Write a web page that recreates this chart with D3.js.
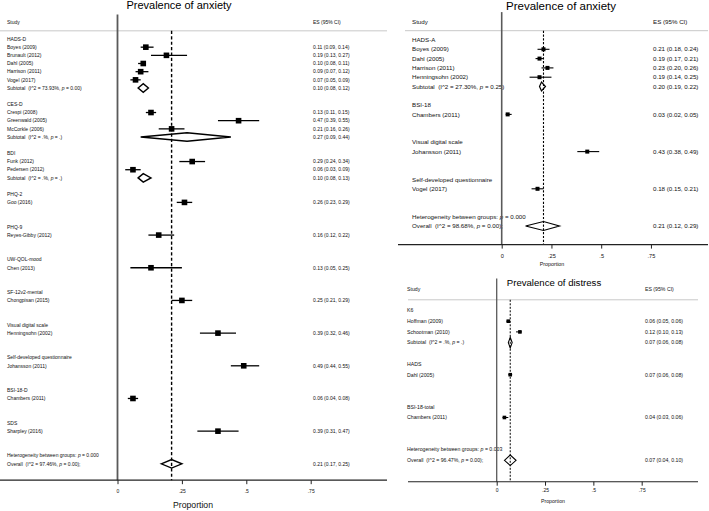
<!DOCTYPE html>
<html><head><meta charset="utf-8">
<script src="https://cdn.jsdelivr.net/npm/d3@7"></script>
<style>
body{margin:0;background:#fff}
svg{display:block}
text{font-family:"Liberation Sans",Arial,Helvetica,sans-serif;fill:#111;white-space:pre}
</style>
</head><body>
<svg id="c" width="709" height="511"></svg>
<script>
// ================= DATA =================
const tickVals = [0, 0.25, 0.5, 0.75];
const tickLabels = ["0", ".25", ".5", ".75"];
const axisTitle = "Proportion";
const headerStudy = "Study";
const headerES = "ES (95% CI)";

// Panel 1: Prevalence of anxiety (all instruments)
const anxTitle = "Prevalence of anxiety";
const anxGroups = ["HADS-D","CES-D","BDI","PHQ-2","PHQ-9","UW-QOL-mood","SF-12v2-mental","Visual digital scale","Self-developed questionnaire","BSI-18-D","SDS"];
const anxStudies = ["Boyes (2009)","Brunault (2012)","Dahl (2005)","Harrison (2011)","Vogel (2017)","Crespi (2008)","Greenwald (2005)","McCorkle (2006)","Funk (2012)","Pedersen (2012)","Goo (2016)","Reyes-Gibby (2012)","Chen (2013)","Chongpisan (2015)","Henningsohn (2002)","Johansson (2011)","Chambers (2011)","Sharpley (2016)"];
const anxStudyGroup = [0,0,0,0,0,1,1,1,2,2,3,4,5,6,7,8,9,10];
const anxES = [0.11,0.19,0.10,0.09,0.07,0.13,0.47,0.21,0.29,0.06,0.26,0.16,0.13,0.25,0.39,0.49,0.06,0.39];
const anxLo = [0.09,0.13,0.08,0.07,0.05,0.11,0.39,0.16,0.24,0.03,0.23,0.12,0.05,0.21,0.32,0.44,0.04,0.31];
const anxHi = [0.14,0.27,0.11,0.12,0.09,0.15,0.55,0.26,0.34,0.09,0.29,0.22,0.25,0.29,0.46,0.55,0.08,0.47];
const anxSubES = [0.10,0.27,0.10,null,null,null,null,null,null,null,null];
const anxSubLo = [0.08,0.09,0.08,null,null,null,null,null,null,null,null];
const anxSubHi = [0.12,0.44,0.13,null,null,null,null,null,null,null,null];
const anxSubI2 = ["73.93%",".%",".%"];
const anxSubP = ["0.00",".","."];
const anxOverall = [0.21,0.17,0.25];
const anxOverallI2 = "97.46%", anxOverallP = "0.00", anxBetweenP = "0.000";

// Panel 2: Prevalence of anxiety (anxiety instruments)
const anx2Title = "Prevalence of anxiety";
const anx2Groups = ["HADS-A","BSI-18","Visual digital scale","Self-developed questionnaire"];
const anx2Studies = ["Boyes (2009)","Dahl (2005)","Harrison (2011)","Henningsohn (2002)","Chambers (2011)","Johansson (2011)","Vogel (2017)"];
const anx2StudyGroup = [0,0,0,0,1,2,3];
const anx2ES = [0.21,0.19,0.23,0.19,0.03,0.43,0.18];
const anx2Lo = [0.18,0.17,0.20,0.14,0.02,0.38,0.15];
const anx2Hi = [0.24,0.21,0.26,0.25,0.05,0.49,0.21];
const anx2SubES = [0.20,null,null,null];
const anx2SubLo = [0.19,null,null,null];
const anx2SubHi = [0.22,null,null,null];
const anx2SubI2 = ["27.30%"];
const anx2SubP = ["0.25"];
const anx2Overall = [0.21,0.12,0.29];
const anx2OverallI2 = "98.68%", anx2OverallP = "0.00", anx2BetweenP = "0.000";

// Panel 3: Prevalence of distress
const disTitle = "Prevalence of distress";
const disGroups = ["K6","HADS","BSI-18-total"];
const disStudies = ["Hoffman (2009)","Schootman (2010)","Dahl (2005)","Chambers (2011)"];
const disStudyGroup = [0,0,1,2];
const disES = [0.06,0.12,0.07,0.04];
const disLo = [0.05,0.10,0.06,0.03];
const disHi = [0.06,0.13,0.08,0.06];
const disSubES = [0.07,null,null];
const disSubLo = [0.06,null,null];
const disSubHi = [0.08,null,null];
const disSubI2 = [".%"];
const disSubP = ["."];
const disOverall = [0.07,0.04,0.10];
const disOverallI2 = "96.47%", disOverallP = "0.00", disBetweenP = "0.003";

// ================= DRAWING =================
const svg = d3.select("#c");
const fmt = d3.format(".2f");
const esText = (e,l,h) => `${fmt(e)} (${fmt(l)}, ${fmt(h)})`;

function addPText(sel, before, after) {
  sel.append("tspan").text(before);
  sel.append("tspan").attr("font-style","italic").text("p");
  sel.append("tspan").text(after);
}

function drawPanel(cfg, d) {
  const g = svg.append("g");
  const x = d3.scaleLinear().domain([0,1]).range([cfg.x0, cfg.x1]);
  // build row structure
  const rows = [];
  d.groups.forEach((grp, gi) => {
    rows.push({kind:"group", label:grp});
    d.studyGroup.forEach((sg, i) => { if (sg === gi) rows.push({kind:"study", i}); });
    if (d.subES[gi] != null) rows.push({kind:"sub", gi}); else rows.push({kind:"blank"});
    rows.push({kind:"blank"});
  });
  rows.push({kind:"het"});
  rows.push({kind:"overall"});
  const y = i => cfg.rowY0 + i * cfg.rowH;
  const axisY = y(rows.length + 1);

  // title
  g.append("text").attr("x", cfg.titleX).attr("y", cfg.titleY).attr("text-anchor","middle")
    .attr("font-size", cfg.titleSize).style("fill","#000").text(d.title);

  // header
  g.append("text").attr("x", cfg.studyX).attr("y", y(-2)).attr("dy","0.35em").attr("font-size", cfg.font).text(headerStudy);
  g.append("text").attr("x", cfg.esX).attr("y", y(-2)).attr("dy","0.35em").attr("font-size", cfg.font).text(headerES);
  g.append("line").attr("x1", cfg.hdrL).attr("x2", cfg.hdrR).attr("y1", y(-1)).attr("y2", y(-1))
    .attr("stroke","#c8c8c8").attr("stroke-width",1);

  // row texts
  rows.forEach((r, ri) => {
    const yy = y(ri);
    if (r.kind === "blank") return;
    const t = g.append("text").attr("x", cfg.studyX).attr("y", yy).attr("dy","0.35em").attr("font-size", cfg.font);
    if (r.kind === "group") t.text(r.label);
    else if (r.kind === "study") {
      t.text(d.studies[r.i]);
      g.append("text").attr("x", cfg.esX).attr("y", yy).attr("dy","0.35em").attr("font-size", cfg.font)
        .text(esText(d.es[r.i], d.lo[r.i], d.hi[r.i]));
    } else if (r.kind === "sub") {
      addPText(t, `Subtotal  (I^2 = ${d.subI2[r.gi]}, `, ` = ${d.subP[r.gi]})`);
      g.append("text").attr("x", cfg.esX).attr("y", yy).attr("dy","0.35em").attr("font-size", cfg.font)
        .text(esText(d.subES[r.gi], d.subLo[r.gi], d.subHi[r.gi]));
    } else if (r.kind === "het") {
      addPText(t, "Heterogeneity between groups: ", ` = ${d.betweenP}`);
    } else if (r.kind === "overall") {
      addPText(t, `Overall  (I^2 = ${d.overallI2}, `, ` = ${d.overallP});`);
      g.append("text").attr("x", cfg.esX).attr("y", yy).attr("dy","0.35em").attr("font-size", cfg.font)
        .text(esText(d.overall[0], d.overall[1], d.overall[2]));
    }
  });

  // null line
  g.append("line").attr("x1", x(0)).attr("x2", x(0)).attr("y1", y(-3)).attr("y2", axisY)
    .attr("stroke","#5a5a5a").attr("stroke-width", cfg.nullW);
  // overall dashed line
  g.append("line").attr("x1", x(d.overall[0])).attr("x2", x(d.overall[0])).attr("y1", y(-1)).attr("y2", axisY)
    .attr("stroke","#000").attr("stroke-width", cfg.dashW).attr("stroke-dasharray", cfg.dash);

  // axis
  const ax = d3.axisBottom(x).tickValues(tickVals).tickFormat((v,i) => tickLabels[i])
    .tickSize(cfg.tickLen).tickSizeOuter(0);
  const ag = g.append("g").attr("transform", `translate(0,${axisY})`).call(ax);
  ag.select(".domain").remove();
  ag.selectAll(".tick line").attr("stroke","#222").attr("stroke-width",1);
  ag.selectAll(".tick text").attr("font-size", cfg.tickFont).attr("font-family",null)
    .attr("y", cfg.tickDy).attr("dy","0.35em").style("fill","#111");
  g.append("line").attr("x1", cfg.axL).attr("x2", cfg.axR).attr("y1", axisY).attr("y2", axisY)
    .attr("stroke","#222").attr("stroke-width", cfg.axW);
  g.append("text").attr("x", cfg.xlabX).attr("y", axisY + cfg.xlabDy).attr("dy","0.35em").attr("text-anchor","middle")
    .attr("font-size", cfg.xlabSize).text(axisTitle);

  // studies: CI + squares
  const studyRows = rows.map((r, ri) => ({r, ri})).filter(o => o.r.kind === "study");
  g.selectAll(".ci").data(studyRows).join("line")
    .attr("x1", o => x(d.lo[o.r.i])).attr("x2", o => x(d.hi[o.r.i]))
    .attr("y1", o => y(o.ri)).attr("y2", o => y(o.ri))
    .attr("stroke","#000").attr("stroke-width", cfg.ciW);
  g.selectAll(".sq").data(studyRows).join("rect")
    .attr("x", o => x(d.es[o.r.i]) - cfg.sq/2).attr("y", o => y(o.ri) - cfg.sq/2)
    .attr("width", cfg.sq).attr("height", cfg.sq).attr("fill","#000");

  // diamonds
  const dia = [];
  rows.forEach((r, ri) => {
    if (r.kind === "sub") dia.push({e:d.subES[r.gi], l:d.subLo[r.gi], h:d.subHi[r.gi], yy:y(ri)});
    if (r.kind === "overall") dia.push({e:d.overall[0], l:d.overall[1], h:d.overall[2], yy:y(ri)});
  });
  g.selectAll(".dia").data(dia).join("path")
    .attr("d", o => `M${x(o.l)},${o.yy}L${x(o.e)},${o.yy - cfg.diaH/2}L${x(o.h)},${o.yy}L${x(o.e)},${o.yy + cfg.diaH/2}Z`)
    .attr("fill","none").attr("stroke","#000").attr("stroke-width", cfg.diaW).attr("stroke-linejoin","miter");
}

drawPanel({
  x0:117.5, x1:375.1, rowY0:39, rowH:8.17, studyX:7, esX:313, font:5,
  hdrL:0, hdrR:387, axL:0, axR:387, axW:1.3,
  titleX:179, titleY:9, titleSize:11,
  xlabX:193, xlabDy:25, xlabSize:8.7, tickFont:5, tickDy:11.5, tickLen:4,
  sq:5.6, ciW:1.3, nullW:1.8, dashW:1.4, dash:"3.2,2.2", diaH:8.5, diaW:1.4
}, {title:anxTitle, groups:anxGroups, studies:anxStudies, studyGroup:anxStudyGroup, es:anxES, lo:anxLo, hi:anxHi,
   subES:anxSubES, subLo:anxSubLo, subHi:anxSubHi, subI2:anxSubI2, subP:anxSubP,
   overall:anxOverall, overallI2:anxOverallI2, overallP:anxOverallP, betweenP:anxBetweenP});

drawPanel({
  x0:501.7, x1:700.7, rowY0:40, rowH:9.3, studyX:412, esX:653, font:6.2,
  hdrL:405, hdrR:708, axL:398, axR:708, axW:1.2,
  titleX:561, titleY:10, titleSize:11.5,
  xlabX:552, xlabDy:19.5, xlabSize:5.3, tickFont:5.6, tickDy:11, tickLen:4,
  sq:4, ciW:1.1, nullW:1.6, dashW:1.1, dash:"2.2,1.6", diaH:9, diaW:1.2
}, {title:anx2Title, groups:anx2Groups, studies:anx2Studies, studyGroup:anx2StudyGroup, es:anx2ES, lo:anx2Lo, hi:anx2Hi,
   subES:anx2SubES, subLo:anx2SubLo, subHi:anx2SubHi, subI2:anx2SubI2, subP:anx2SubP,
   overall:anx2Overall, overallI2:anx2OverallI2, overallP:anx2OverallP, betweenP:anx2BetweenP});

drawPanel({
  x0:496.7, x1:690, rowY0:310.5, rowH:10.7, studyX:407, esX:645, font:5.2,
  hdrL:408, hdrR:698, axL:408, axR:698, axW:1.1,
  titleX:554, titleY:286, titleSize:9.6,
  xlabX:553, xlabDy:19, xlabSize:5.2, tickFont:5, tickDy:9, tickLen:4,
  sq:3.6, ciW:1, nullW:1.3, dashW:1, dash:"2,1.5", diaH:10.5, diaW:1.1
}, {title:disTitle, groups:disGroups, studies:disStudies, studyGroup:disStudyGroup, es:disES, lo:disLo, hi:disHi,
   subES:disSubES, subLo:disSubLo, subHi:disSubHi, subI2:disSubI2, subP:disSubP,
   overall:disOverall, overallI2:disOverallI2, overallP:disOverallP, betweenP:disBetweenP});
</script>
</body></html>
